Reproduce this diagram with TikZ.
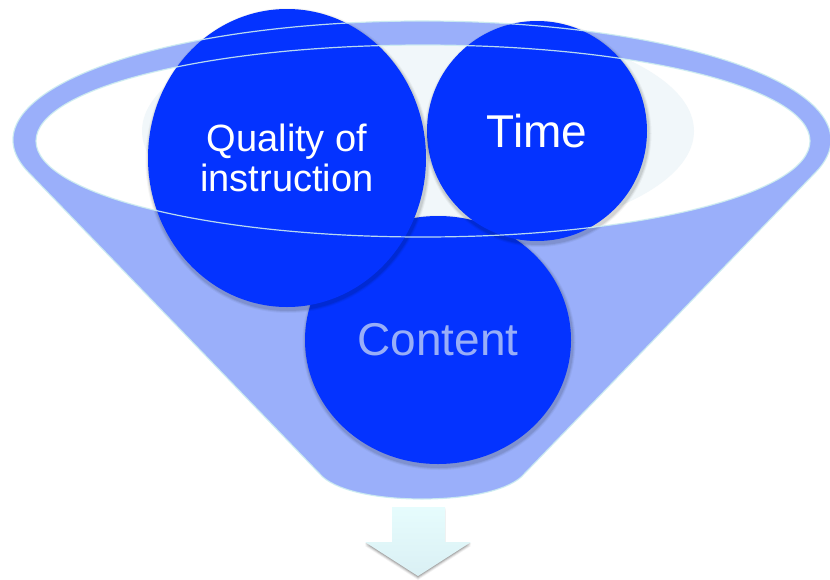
\documentclass[tikz,border=0pt]{standalone}
\usepackage{fontspec}
\setmainfont{Liberation Sans}
\usetikzlibrary{shapes.geometric,calc}
\definecolor{funnelfill}{RGB}{154,175,250}
\definecolor{rimline}{RGB}{204,236,240}
\definecolor{ballblue}{RGB}{4,51,255}
\definecolor{glow}{RGB}{241,247,250}
\definecolor{contenttext}{RGB}{152,174,248}
\definecolor{arrowtop}{RGB}{230,252,253}
\definecolor{arrowbot}{RGB}{218,240,244}

\tikzset{
  ball/.style={ellipse, fill=ballblue, inner sep=0pt, align=center, text=white},
  rim/.style={draw=rimline, line width=1.2pt, opacity=0.9},
}

% soft shadow below-right of an elliptic ball: centre, x radius, y radius
\newcommand{\ballshadow}[3]{%
  \foreach \g/\o in {3.5/0.04, 2.5/0.06, 1.5/0.08}{%
    \fill[black, opacity=\o] ($#1+(1,2.5)$) ellipse[x radius=#2pt+\g pt, y radius=#3pt+\g pt];
  }%
}

\begin{document}
\begin{tikzpicture}[x=1pt,y=-1pt]
\useasboundingbox (0,0) rectangle (830,579);

% funnel body: outer rim ellipse plus tangent sides and rounded bottom
\fill[funnelfill] (28.3,172.2)
  arc[start angle=195.7, end angle=-15.7, x radius=409pt, y radius=119pt]
  -- (521.2,477) .. controls (504,492) and (464,499) .. (422,499)
  .. controls (380,499) and (340,492) .. (322.8,477) -- cycle;

% opening of the funnel
\fill[white] (423,141) ellipse[x radius=387pt, y radius=96pt];
\begin{scope}
  \clip (423,141) ellipse[x radius=387pt, y radius=96pt];
  \fill[glow] (418,131) ellipse[x radius=276pt, y radius=110pt];
\end{scope}

% balls in the funnel
\coordinate (cC) at (438,340);
\coordinate (cT) at (537,131);
\coordinate (cQ) at (287,158);

\ballshadow{(cC)}{133}{124}
\node[ball, minimum width=266pt, minimum height=248pt, text=contenttext,
      font=\fontsize{46}{48}\selectfont] (content) at (cC) {Content};

\ballshadow{(cT)}{110}{110}
\node[ball, minimum width=220pt, minimum height=220pt,
      font=\fontsize{46}{48}\selectfont] (time) at (cT) {Time};

\ballshadow{(cQ)}{139}{149}
\node[ball, minimum width=278pt, minimum height=298pt,
      font=\fontsize{38}{40}\selectfont] (quality) at (cQ) {Quality of\\instruction};

% rim outlines over the balls
\draw[rim] (28.3,172.2)
  arc[start angle=195.7, end angle=-15.7, x radius=409pt, y radius=119pt]
  -- (521.2,477) .. controls (504,492) and (464,499) .. (422,499)
  .. controls (380,499) and (340,492) .. (322.8,477) -- cycle;
\draw[rim] (423,141) ellipse[x radius=387pt, y radius=96pt];

% outlet arrow with a soft shadow
\foreach \s/\o in {1/0.14, 2/0.11, 3/0.08, 4/0.05}{
  \fill[black, opacity=\o, shift={(0,\s)}]
    (392,507) -- (445,507) -- (445,542) -- (471,542) -- (418,576)
    -- (365,542) -- (392,542) -- cycle;
}
\shade[top color=arrowtop, bottom color=arrowbot]
  (392,507) -- (445,507) -- (445,542) -- (471,542) -- (418,576)
  -- (365,542) -- (392,542) -- cycle;
\end{tikzpicture}
\end{document}
